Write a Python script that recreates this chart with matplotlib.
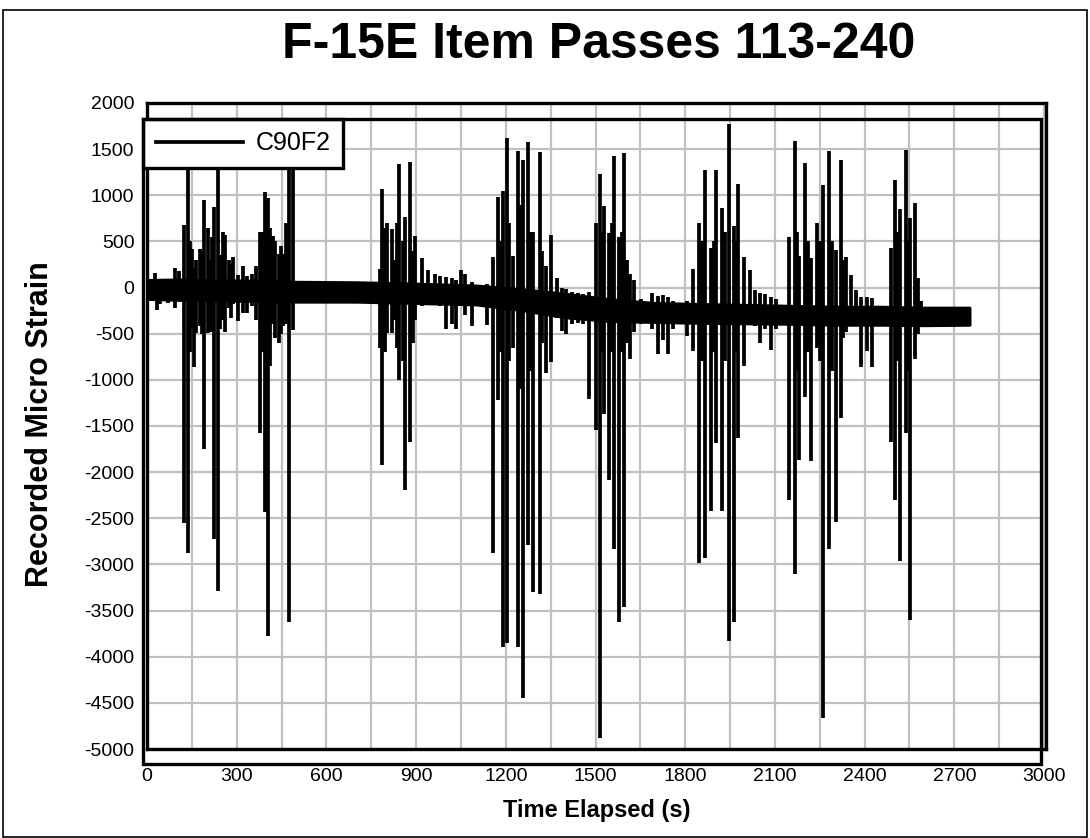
import matplotlib
matplotlib.use("Agg")
import matplotlib.pyplot as plt
from matplotlib.patches import Rectangle
from matplotlib.lines import Line2D

plt.rcParams['font.family'] = ['Liberation Sans', 'DejaVu Sans']

# ---- data ----
series_name = "C90F2"

# large spikes: time (s), peak positive strain, peak negative strain
spike_t = [27, 33, 45, 70, 93, 108,
           125, 138, 150, 157, 165, 178, 192, 205, 213, 224, 236, 253, 260, 275,
           289, 305, 321, 335, 350, 365, 378, 395, 406, 420, 428, 442, 455, 475, 488,
           778, 787, 804, 819, 830, 843, 863, 880, 896, 919, 941, 963, 980, 1000,
           1019, 1033, 1049, 1064, 1088, 1136,
           1156, 1173, 1190, 1203, 1223, 1240, 1259, 1275, 1292, 1314, 1334, 1350,
           1370, 1387, 1402, 1420, 1440, 1459, 1478, 1500, 1516, 1530, 1546, 1562,
           1579, 1596, 1614, 1629, 1652, 1689, 1709, 1725, 1744, 1760, 1806,
           1825, 1845, 1865, 1887, 1903, 1923, 1945, 1962, 1978, 1997, 2017, 2034,
           2051, 2068, 2086, 2105, 2146, 2166, 2182, 2201, 2220, 2240, 2261, 2281,
           2303, 2320, 2337, 2353, 2370, 2387, 2407, 2426, 2487, 2503, 2518, 2537,
           2553, 2570, 2590]
spike_hi = [158, 60, 60, 40, 212, 180,
            680, 1400, 420, 210, 300, 420, 950, 650, 300, 873, 1450, 602, 573, 300,
            335, 140, 230, 130, 150, 230, 602, 1032, 970, 557, 500, 364, 364, 1600, 1700,
            200, 1065, 703, 631, 300, 1336, 762, 1364, 563, 324, 190, 150, 130, 115,
            100, 80, 190, 150, 60, 40,
            336, 985, 1046, 1617, 342, 1480, 1382, 1574, 606, 1473, 234, 570,
            100, -8, -20, -50, -60, -70, -45, 696, 1227, 889, 591, 1426,
            551, 1456, 144, 79, -120, -60, -90, -80, -100, -150, -150,
            203, 700, 1272, 432, 1272, 865, 1774, 666, 1123, 333, 194, -30,
            -60, -70, -100, -120, 551, 1585, 343, 1352, 318, 700, 1113, 1476,
            402, 1377, 333, 134, -30, -100, -100, -110, 432, 1163, 855, 1496,
            750, 914, -150]
spike_lo = [-100, -243, -180, -170, -220, -150,
            -2554, -2876, -440, -857, -493, -420, -1750, -490, -480, -2725, -3288, -350, -480, -220,
            -180, -360, -275, -280, -200, -350, -1572, -2432, -3780, -400, -550, -600, -420, -3620, -460,
            -655, -1922, -494, -494, -350, -1001, -2193, -1670, -351, -200, -160, -190, -200, -450,
            -395, -450, -150, -300, -420, -405,
            -2880, -1218, -3900, -3850, -655, -3900, -4450, -2789, -3294, -3323, -929, -803,
            -330, -470, -505, -400, -380, -400, -1207, -1543, -4876, -1372, -2083, -2838,
            -3623, -3459, -775, -477, -400, -450, -716, -570, -716, -450, -527,
            -691, -2987, -2927, -2425, -1685, -2425, -3832, -3623, -1635, -850, -353, -420,
            -600, -452, -676, -450, -2306, -3101, -1869, -1188, -1884, -651, -4660, -2838,
            -2540, -1412, -477, -400, -420, -860, -691, -860, -1670, -2301, -2962, -1571,
            -3598, -775, -430]

# smaller oscillations inside the bursts
minor_t = [145, 185, 218, 245, 282, 385, 412, 448, 465,
           795, 836, 856, 888,
           1180, 1210, 1248, 1283, 1322,
           1524, 1554, 1587, 1605,
           1855, 1895, 1934, 1970,
           2174, 2210, 2250, 2292, 2328,
           2510, 2545, 2580]
minor_hi = [500, 400, 550, 350, 250, 600, 650, 450, 700,
            650, 700, 500, 400,
            500, 700, 900, 600, 400,
            600, 700, 600, 300,
            500, 500, 600, 500,
            600, 500, 500, 500, 300,
            600, 500, 100]
minor_lo = [-700, -500, -400, -450, -330, -700, -850, -500, -400,
            -700, -650, -800, -600,
            -700, -800, -1100, -900, -600,
            -700, -700, -700, -600,
            -800, -700, -800, -700,
            -900, -700, -800, -900, -550,
            -800, -900, -500]

# dense noise band around the drifting baseline
band_t = [0, 100, 300, 500, 700, 900, 1100, 1250, 1400, 1550, 1700, 1850,
          2000, 2150, 2300, 2450, 2600, 2750]
band_hi = [80, 85, 75, 60, 55, 40, 20, -20, -70, -130, -170, -180,
           -190, -200, -210, -210, -220, -220]
band_lo = [-120, -130, -140, -150, -150, -165, -180, -240, -320, -360, -370, -380,
           -385, -390, -400, -400, -405, -400]

x_major = list(range(0, 3001, 300))
x_minor = list(range(0, 3001, 150))
y_major = list(range(-5000, 2001, 500))

# ---- figure ----
W, H = 1090, 838
fig = plt.figure(figsize=(W / 100, H / 100), dpi=100)
fig.patch.set_facecolor('white')

def fx(px):
    return px / W

def fy(py):
    return 1 - py / H

ax = fig.add_axes([fx(147), fy(749), fx(1046) - fx(147), fy(103) - fy(749)])
ax.set_xlim(0, 3000 * (1046 - 147) / (1044 - 147))
ax.set_ylim(-5000, 2000)

ax.fill_between(band_t, band_lo, band_hi, color='black', lw=2.5, zorder=3)
ax.vlines(minor_t, minor_lo, minor_hi, color='black', lw=2.7, zorder=3)
ax.vlines(spike_t, spike_lo, spike_hi, color='black', lw=2.7, zorder=3)

ax.set_xticks(x_major)
ax.set_xticks(x_minor, minor=True)
ax.set_yticks(y_major)
ax.set_xticklabels([str(v) for v in x_major])
ax.set_yticklabels([str(v) for v in y_major])
ax.tick_params(axis='both', which='both', length=0, labelsize=14)
ax.tick_params(axis='x', pad=14)
ax.tick_params(axis='y', pad=9)
ax.grid(True, which='major', color='#c0c0c0', lw=1.6, zorder=0)
ax.grid(True, which='minor', axis='x', color='#c0c0c0', lw=1.6, zorder=0)
ax.set_axisbelow(True)
for s in ax.spines.values():
    s.set_linewidth(2.4)
    s.set_color('black')

fig.text(fx(597), fy(810), 'Time Elapsed (s)', fontsize=17, fontweight='bold',
         ha='center', va='center')
fig.text(fx(40), fy(424), 'Recorded Micro Strain', fontsize=22, fontweight='bold',
         ha='center', va='center', rotation=90)

fig.text(fx(599), fy(45), 'F-15E Item Passes 113-240', fontsize=36,
         fontweight='bold', ha='center', va='center')

# offset second frame
fig.patches.append(Rectangle((fx(143), fy(764)), fx(1041) - fx(143), fy(119) - fy(764),
                             transform=fig.transFigure, fill=False, lw=2.4,
                             edgecolor='black', zorder=5))
# figure border
fig.patches.append(Rectangle((fx(3), fy(837)), fx(1087) - fx(3), fy(10) - fy(837),
                             transform=fig.transFigure, fill=False, lw=1.2,
                             edgecolor='black', zorder=5))

handle = Line2D([], [], color='black', lw=2.7)
leg = ax.legend([handle], [series_name], loc='upper left',
                bbox_to_anchor=(fx(143), fy(119)), bbox_transform=fig.transFigure,
                borderaxespad=0, fancybox=False, framealpha=1, edgecolor='black',
                fontsize=18, handlelength=3.5, handletextpad=0.5, borderpad=0.5)
leg.get_frame().set_linewidth(2.4)
leg.set_zorder(10)

fig.savefig('out.png', dpi=100, facecolor='white')
